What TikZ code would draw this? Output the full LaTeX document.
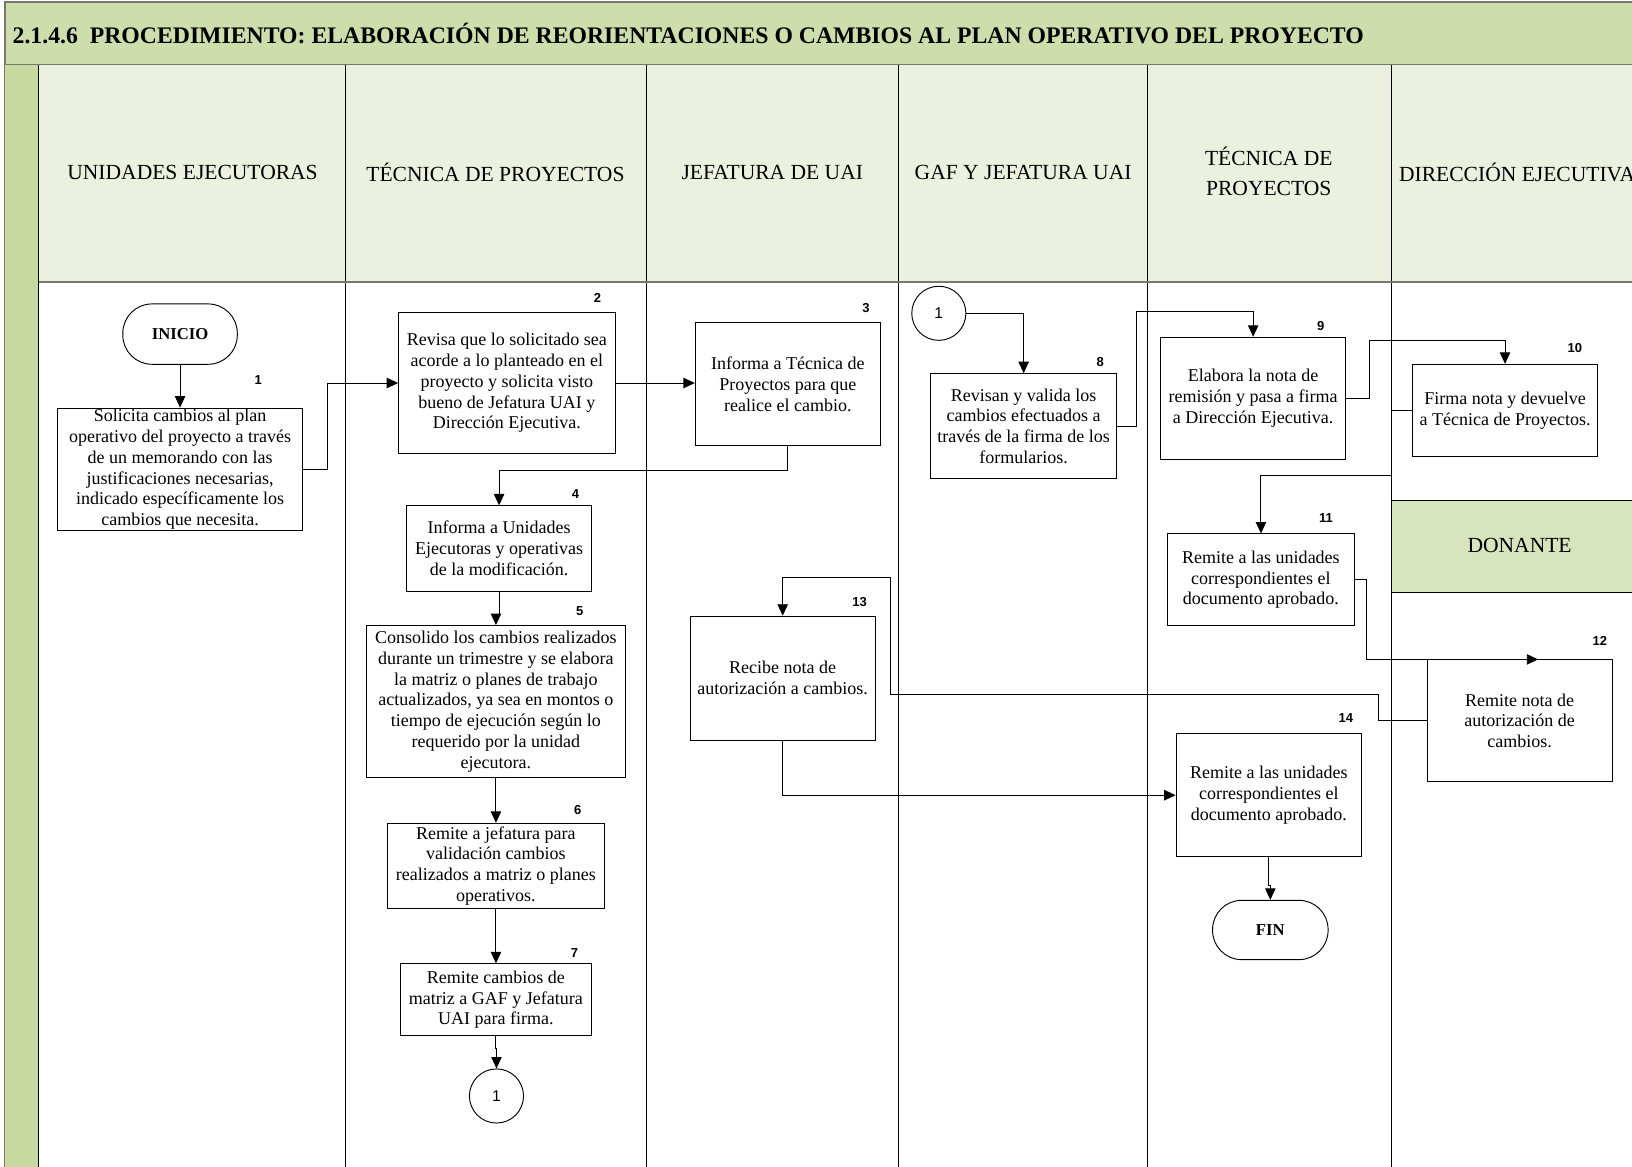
\documentclass[tikz,border=0pt]{standalone}
\usepackage{fontspec}
\setmainfont{Liberation Serif}
\newfontfamily\arialf{Liberation Sans}
\usetikzlibrary{arrows.meta,calc}

\definecolor{titlegreen}{RGB}{205,221,172}
\definecolor{headgreen}{RGB}{235,241,222}
\definecolor{stripgreen}{RGB}{200,217,160}
\definecolor{donorgreen}{RGB}{215,228,189}
\definecolor{rulegray}{RGB}{120,120,110}

\tikzset{
  stepbox/.style={draw=black, line width=0.9pt, fill=white, align=center, inner sep=0pt,
    font=\fontsize{17.3}{20}\selectfont},
  term/.style={draw=black, line width=0.9pt, fill=white, inner sep=0pt, rounded corners=28pt,
    font=\bfseries\fontsize{16}{18}\selectfont},
  conn/.style={draw=black, line width=0.9pt, circle, fill=white, inner sep=0pt, minimum size=52pt,
    font=\arialf\fontsize{15}{17}\selectfont},
  num/.style={font=\arialf\bfseries\fontsize{12.5}{14}\selectfont, inner sep=0pt},
  lanehead/.style={align=center, font=\fontsize{20.7}{29}\selectfont, inner sep=0pt},
  arr/.style={draw=black, line width=0.9pt, -{Triangle[length=11pt,width=10pt]}},
}

\begin{document}
\begin{tikzpicture}[x=1pt,y=-1pt]
\useasboundingbox (0,0) rectangle (1568,1121);
\clip (0,0) rectangle (1568,1121);

% title band
\fill[titlegreen] (5,2) rectangle (1580,62);
\draw[rulegray, line width=1.4pt] (1580,2) -- (5,2) -- (5,1130);
\draw[rulegray, line width=1.6pt] (5,62) -- (1580,62);
\node[anchor=west, inner sep=0pt, font=\bfseries\fontsize{22.8}{26}\selectfont] (title) at (12,32)
  {2.1.4.6\ \ PROCEDIMIENTO: ELABORACIÓN DE REORIENTACIONES O CAMBIOS AL PLAN OPERATIVO DEL PROYECTO};

% left strip and lane headers
\fill[stripgreen] (5,62) rectangle (37,1130);
\fill[headgreen] (37,62) rectangle (1580,271);
\fill[donorgreen] (1337,481) rectangle (1580,569);
\draw[black, line width=0.9pt] (1337,481) -- (1580,481) (1337,569) -- (1580,569);
\foreach \xx in {37,332,621,863,1102,1337}
  \draw[black, line width=0.9pt] (\xx,62) -- (\xx,1130);
\draw[rulegray, line width=1.8pt] (37,271) -- (1580,271);

\node[lanehead] (h1) at (185,166) {UNIDADES EJECUTORAS};
\node[lanehead] (h2) at (476,166) {TÉCNICA DE PROYECTOS};
\node[lanehead] (h3) at (742,166) {JEFATURA DE UAI};
\node[lanehead] (h4) at (983,166) {GAF Y JEFATURA UAI};
\node[lanehead] (h5) at (1219,165) {TÉCNICA DE\\PROYECTOS};
\node[lanehead, anchor=west] (h6) at (1344,166) {DIRECCIÓN EJECUTIVA};
\node[lanehead] (h7) at (1460,524) {DONANTE};

% process steps
\node[term, minimum width=110pt, minimum height=58pt] (ini) at (173,321) {INICIO};
\node[stepbox, minimum width=236pt, minimum height=118pt] (b1) at (173,451)
  {Solicita cambios al plan\\operativo del proyecto a través\\de un memorando con las\\justificaciones necesarias,\\indicado específicamente los\\cambios que necesita.};
\node[stepbox, minimum width=208pt, minimum height=136pt] (b2) at (487,368)
  {Revisa que lo solicitado sea\\acorde a lo planteado en el\\proyecto y solicita visto\\bueno de Jefatura UAI y\\Dirección Ejecutiva.};
\node[stepbox, minimum width=178pt, minimum height=118pt] (b3) at (757,369)
  {Informa a Técnica de\\Proyectos para que\\realice el cambio.};
\node[stepbox, minimum width=177pt, minimum height=82pt] (b4) at (479.5,527)
  {Informa a Unidades\\Ejecutoras y operativas\\de la modificación.};
\node[stepbox, minimum width=249pt, minimum height=146pt] (b5) at (476.5,674)
  {Consolido los cambios realizados\\durante un trimestre y se elabora\\la matriz o planes de trabajo\\actualizados, ya sea en montos o\\tiempo de ejecución según lo\\requerido por la unidad\\ejecutora.};
\node[stepbox, minimum width=209pt, minimum height=82pt] (b6) at (476.5,832)
  {Remite a jefatura para\\validación cambios\\realizados a matriz o planes\\operativos.};
\node[stepbox, minimum width=183pt, minimum height=69pt] (b7) at (476.5,960.5)
  {Remite cambios de\\matriz a GAF y Jefatura\\UAI para firma.};
\node[conn] (c1) at (477,1053) {1};

\node[conn] (c2) at (902,301) {1};
\node[stepbox, minimum width=179pt, minimum height=101pt] (b8) at (983.5,409.5)
  {Revisan y valida los\\cambios efectuados a\\través de la firma de los\\formularios.};
\node[stepbox, minimum width=178pt, minimum height=117pt] (b9) at (1204,382.5)
  {Elabora la nota de\\remisión y pasa a firma\\a Dirección Ejecutiva.};
\node[stepbox, minimum width=178pt, minimum height=89pt] (b10) at (1446,394.5)
  {Firma nota y devuelve\\a Técnica de Proyectos.};
\node[stepbox, minimum width=179pt, minimum height=88pt] (b11) at (1211.5,557)
  {Remite a las unidades\\correspondientes el\\documento aprobado.};
\node[stepbox, minimum width=178pt, minimum height=117pt] (b12) at (1460,692.5)
  {Remite nota de\\autorización de\\cambios.};
\node[stepbox, minimum width=178pt, minimum height=119pt] (b13) at (752,651.5)
  {Recibe nota de\\autorización a cambios.};
\node[stepbox, minimum width=178pt, minimum height=118pt] (b14) at (1219,764)
  {Remite a las unidades\\correspondientes el\\documento aprobado.};
\node[term, minimum width=111pt, minimum height=57pt] (fin) at (1220.5,893.5) {FIN};

% step numbers
\node[num] (n1) at (248,365) {1};
\node[num] (n2) at (574,286) {2};
\node[num] (n3) at (832,296) {3};
\node[num] (n4) at (553,475) {4};
\node[num] (n5) at (557,587) {5};
\node[num] (n6) at (555,778) {6};
\node[num] (n7) at (552,916) {7};
\node[num] (n8) at (1057,348) {8};
\node[num] (n9) at (1269,313) {9};
\node[num] (n10) at (1513,334) {10};
\node[num] (n11) at (1274,498) {11};
\node[num] (n12) at (1537,616) {12};
\node[num] (n13) at (826,578) {13};
\node[num] (n14) at (1293,690) {14};

% connectors
\draw[arr] (ini.south) -- (b1.north);
\draw[arr] (b1.east) -- ++(23,0) |- (b2.west);
\draw[arr] (b2.east) -- (b3.west |- b2.east);
\draw[arr] (b3.south) -- ++(0,24) -| (b4.north);
\draw[arr] (b4.south) -- ++(0,22) -| (b5.north);
\draw[arr] (b5.south) -- (b6.north);
\draw[arr] (b6.south) -- (b7.north);
\draw[arr] (b7.south) -- ++(0,12) -| (c1.north);
\draw[arr] (c2.east) -| (b8.north);
\draw[arr] (b8.east) -- ++(18,0) |- ($(b9.north)+(0,-24)$) -- (b9.north);
\draw[arr] (b9.east) -- ++(22,0) |- ($(b10.north)+(0,-22)$) -- (b10.north);
\draw[arr] (b10.west) -- ++(-20,0) -- ++(0,62) -| (b11.north);
\draw[arr] (b11.east) -- ++(11,0) |- ($(b12.north west)!0.6!(b12.north east)$);
\draw[arr] (b12.west) -- ++(-46,0) -- ++(0,-25) -- ++(-469,0) -- ++(0,-113) -| (b13.north);
\draw[arr] (b13.south) |- (b14.west);
\draw[arr] (b14.south) -- ++(0,27) -| (fin.north);
\end{tikzpicture}
\end{document}
